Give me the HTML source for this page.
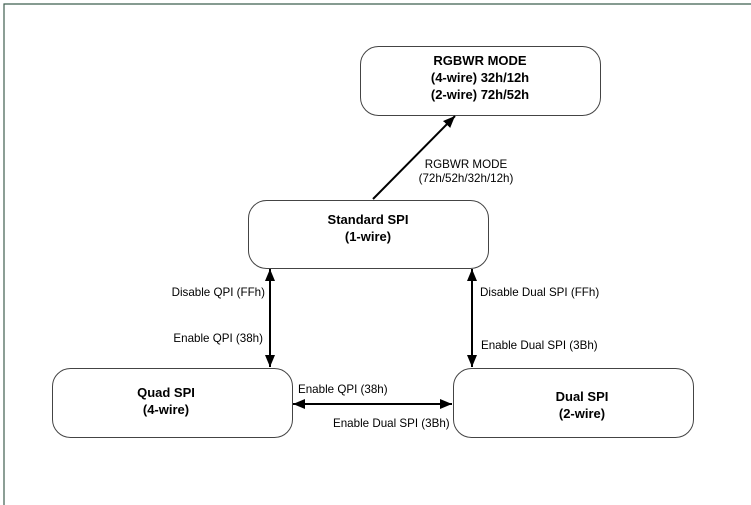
<!DOCTYPE html>
<html><head><style>
html,body{margin:0;padding:0;background:#fff;}
svg{display:block;}
text{font-family:"Liberation Sans",Arial,sans-serif;fill:#000;}
.b{font-weight:bold;font-size:13px;}
.s{font-size:11.6px;fill:#111;}
</style></head><body>
<svg width="751" height="505" viewBox="0 0 751 505" xmlns="http://www.w3.org/2000/svg">
<defs>
<marker id="a" viewBox="0 0 12 10" refX="12" refY="5" markerWidth="12" markerHeight="10" markerUnits="userSpaceOnUse" orient="auto-start-reverse">
<path d="M0,0 L12,5 L0,10 z" fill="#000"/>
</marker>
</defs>
<path d="M4,505 V4 H751" fill="none" stroke="#3f5f4f" stroke-width="1.2"/>
<g fill="#fff" stroke="#444" stroke-width="1">
<rect x="360.5" y="46.5" width="240" height="69" rx="18"/>
<rect x="248.5" y="200.5" width="240" height="68" rx="18"/>
<rect x="52.5" y="368.5" width="240" height="69" rx="18"/>
<rect x="453.5" y="368.5" width="240" height="69" rx="18"/>
</g>
<g stroke="#000" stroke-width="2" fill="none">
<line x1="373" y1="199" x2="455" y2="116" marker-end="url(#a)"/>
<line x1="270" y1="269" x2="270" y2="367" marker-start="url(#a)" marker-end="url(#a)"/>
<line x1="472" y1="269" x2="472" y2="367" marker-start="url(#a)" marker-end="url(#a)"/>
<line x1="293" y1="404" x2="452" y2="404" marker-start="url(#a)" marker-end="url(#a)"/>
</g>
<g text-anchor="middle" class="b">
<text x="480" y="65">RGBWR MODE</text>
<text x="480" y="82">(4-wire) 32h/12h</text>
<text x="480" y="99">(2-wire) 72h/52h</text>
<text x="368" y="224">Standard SPI</text>
<text x="368" y="241">(1-wire)</text>
<text x="166" y="397">Quad SPI</text>
<text x="166" y="414">(4-wire)</text>
<text x="582" y="401">Dual SPI</text>
<text x="582" y="418">(2-wire)</text>
</g>
<g class="s">
<text x="466" y="168" text-anchor="middle">RGBWR MODE</text>
<text x="466" y="182" text-anchor="middle">(72h/52h/32h/12h)</text>
<text x="265" y="296" text-anchor="end">Disable QPI (FFh)</text>
<text x="263" y="342" text-anchor="end">Enable QPI (38h)</text>
<text x="480" y="296">Disable Dual SPI (FFh)</text>
<text x="481" y="349">Enable Dual SPI (3Bh)</text>
<text x="298" y="393">Enable QPI (38h)</text>
<text x="333" y="427">Enable Dual SPI (3Bh)</text>
</g>
</svg>
</body></html>
